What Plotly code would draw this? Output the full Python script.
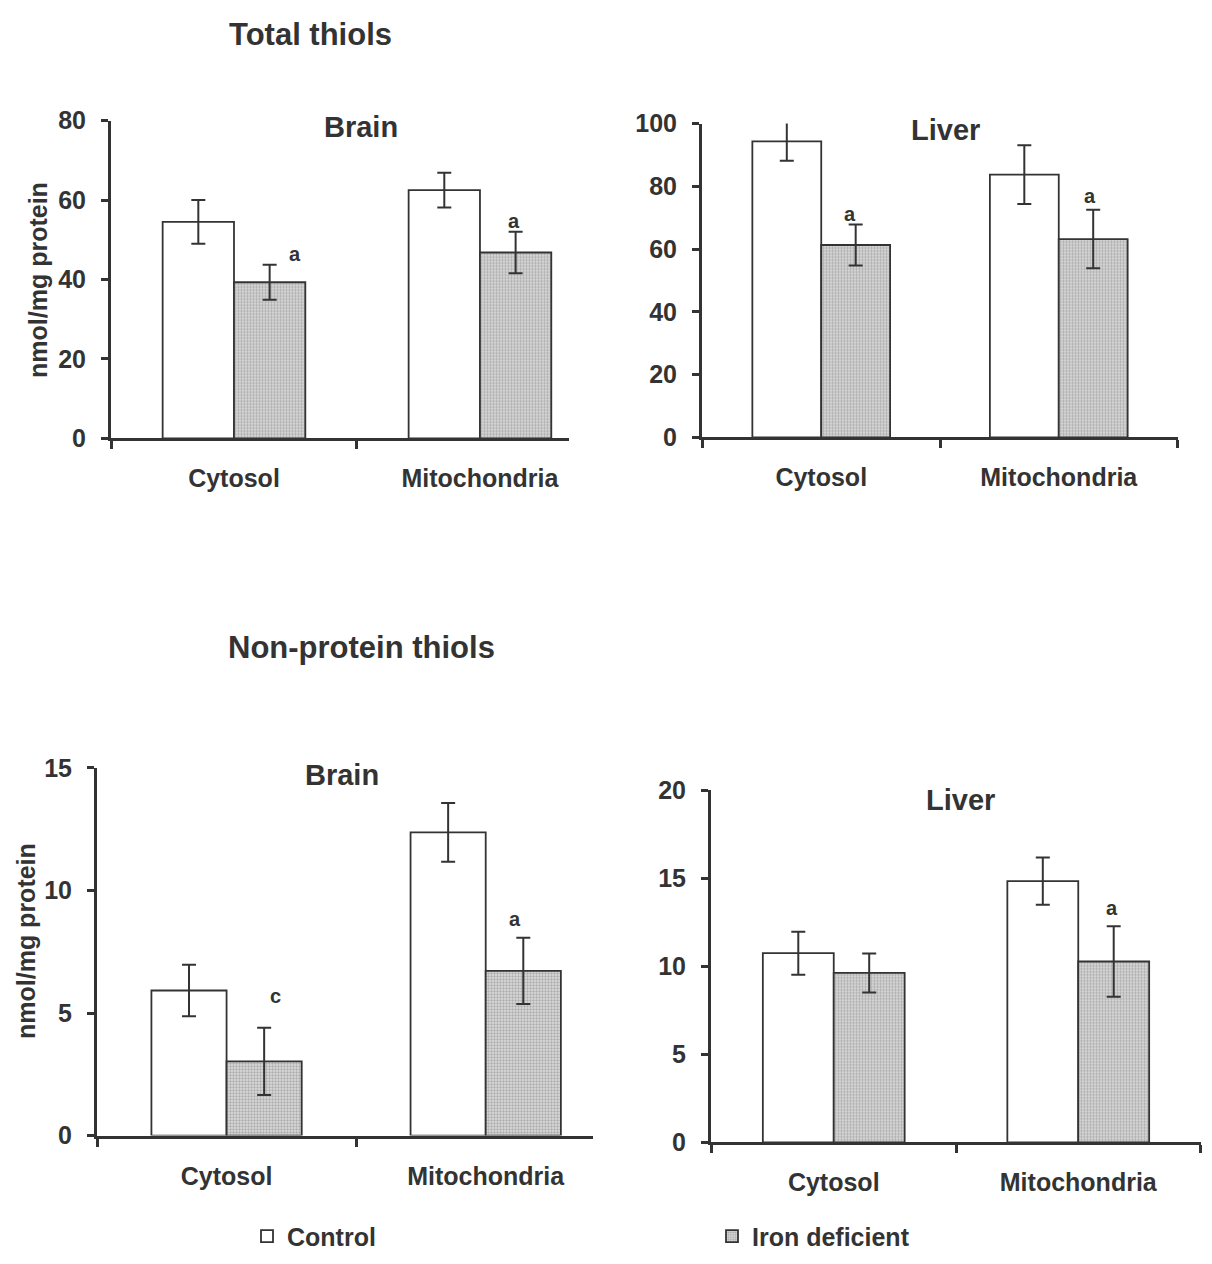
import plotly.graph_objects as go

W, H = 1212, 1264

categories = ["Cytosol", "Mitochondria"]
series_names = ["Control", "Iron deficient"]

# Total thiols (nmol/mg protein)
total_brain_control = [54.5, 62.5]
total_brain_control_err = [5.5, 4.4]
total_brain_iron = [39.3, 46.8]
total_brain_iron_err = [4.4, 5.2]
total_brain_sig = ["a", "a"]

total_liver_control = [94.3, 83.7]
total_liver_control_err = [6.2, 9.35]
total_liver_iron = [61.3, 63.2]
total_liver_iron_err = [6.5, 9.3]
total_liver_sig = ["a", "a"]

# Non-protein thiols (nmol/mg protein)
np_brain_control = [5.92, 12.37]
np_brain_control_err = [1.05, 1.2]
np_brain_iron = [3.03, 6.72]
np_brain_iron_err = [1.37, 1.35]
np_brain_sig = ["c", "a"]

np_liver_control = [10.75, 14.85]
np_liver_control_err = [1.22, 1.34]
np_liver_iron = [9.63, 10.28]
np_liver_iron_err = [1.11, 2.0]
np_liver_sig = ["", "a"]

y_ticks_total_brain = [0, 20, 40, 60, 80]
y_ticks_total_liver = [0, 20, 40, 60, 80, 100]
y_ticks_np_brain = [0, 5, 10, 15]
y_ticks_np_liver = [0, 5, 10, 15, 20]

FONT = "Liberation Sans, Arial, sans-serif"
INK = "#333333"
BARGAP = 0.42

panels = [
    dict(title="Brain", ctrl=total_brain_control, ctrl_err=total_brain_control_err,
         iron=total_brain_iron, iron_err=total_brain_iron_err, sig=total_brain_sig,
         yticks=y_ticks_total_brain, xpx=(111, 569), ypx=(109, 434),
         xrange=(-0.5, 1.362), bounds=[-0.5, 0.5], title_px=(361, 116),
         sig_shift=[(25, 11), (-2, 11)]),
    dict(title="Liver", ctrl=total_liver_control, ctrl_err=total_liver_control_err,
         iron=total_liver_iron, iron_err=total_liver_iron_err, sig=total_liver_sig,
         yticks=y_ticks_total_liver, xpx=(702, 1178), ypx=(112, 433),
         xrange=(-0.502, 1.502), bounds=[-0.5, 0.5, 1.5], title_px=(945, 119),
         sig_shift=[(-6, 11), (-3, 14)]),
    dict(title="Brain", ctrl=np_brain_control, ctrl_err=np_brain_control_err,
         iron=np_brain_iron, iron_err=np_brain_iron_err, sig=np_brain_sig,
         yticks=y_ticks_np_brain, xpx=(97, 593), ypx=(771, 1147),
         xrange=(-0.5, 1.414), bounds=[-0.5, 0.5], title_px=(342, 778),
         sig_shift=[(11, 32), (-8, 19)]),
    dict(title="Liver", ctrl=np_liver_control, ctrl_err=np_liver_control_err,
         iron=np_liver_iron, iron_err=np_liver_iron_err, sig=np_liver_sig,
         yticks=y_ticks_np_liver, xpx=(711, 1201), ypx=(794, 1154),
         xrange=(-0.502, 1.502), bounds=[-0.5, 0.5, 1.5], title_px=(960, 804),
         sig_shift=[(0, 11), (-2, 18)]),
]

fig = go.Figure()
annotations = []
xpos = list(range(len(categories)))
bar_w = (1 - BARGAP) / 2

for k, p in enumerate(panels):
    sfx = "" if k == 0 else str(k + 1)
    xa, ya = "x" + sfx, "y" + sfx
    fig.add_trace(go.Bar(
        x=xpos, y=p["ctrl"], name=series_names[0], legendgroup="c", showlegend=(k == 0),
        xaxis=xa, yaxis=ya,
        marker=dict(color="white", line=dict(color=INK, width=1.8)),
        error_y=dict(type="data", array=p["ctrl_err"], color=INK, thickness=2, width=7),
    ))
    fig.add_trace(go.Bar(
        x=xpos, y=p["iron"], name=series_names[1], legendgroup="i", showlegend=(k == 0),
        xaxis=xa, yaxis=ya,
        marker=dict(color="#dcdcdc", line=dict(color=INK, width=1.8),
                    pattern=dict(shape=".", size=3, solidity=0.5,
                                 fgcolor="#777777", bgcolor="#e0e0e0")),
        error_y=dict(type="data", array=p["iron_err"], color=INK, thickness=2, width=7),
    ))
    x0, x1 = p["xpx"]
    yt, yb = p["ypx"]
    fig.update_layout(**{
        ("xaxis" + sfx): dict(
            domain=[x0 / W, x1 / W], anchor=ya, type="linear",
            range=list(p["xrange"]), showgrid=False, zeroline=False,
            showline=True, linecolor=INK, linewidth=3,
            tickmode="array", tickvals=xpos, ticktext=categories, ticks="",
            ticklabelstandoff=16,
            tickfont=dict(family=FONT, size=25, color=INK, weight="bold"),
            minor=dict(tickmode="array", tickvals=p["bounds"], ticks="outside",
                       ticklen=8, tickwidth=3, tickcolor=INK, showgrid=False),
        ),
        ("yaxis" + sfx): dict(
            domain=[1 - yb / H, 1 - yt / H], anchor=xa,
            range=[p["yticks"][0], p["yticks"][-1]], showgrid=False, zeroline=False,
            showline=True, linecolor=INK, linewidth=3,
            tickmode="array", tickvals=p["yticks"], ticks="outside",
            ticklen=7, tickwidth=3, tickcolor=INK, ticklabelstandoff=10,
            tickfont=dict(family=FONT, size=25, color=INK, weight="bold"),
        ),
    })
    annotations.append(dict(
        text="<b>%s</b>" % p["title"], xref="paper", yref="paper",
        x=p["title_px"][0] / W, y=1 - p["title_px"][1] / H, showarrow=False,
        xanchor="center", yanchor="middle",
        font=dict(family=FONT, size=29, color=INK)))
    for i, s in enumerate(p["sig"]):
        if not s:
            continue
        dx, dy = p["sig_shift"][i]
        annotations.append(dict(
            text="<b>%s</b>" % s, xref=xa, yref=ya,
            x=xpos[i] + bar_w / 2, y=p["iron"][i] + p["iron_err"][i],
            xanchor="center", yanchor="middle", showarrow=False,
            xshift=dx, yshift=dy,
            font=dict(family=FONT, size=20, color=INK)))

# main titles and y-axis titles
for txt, px, py in [("Total thiols", 310, 21), ("Non-protein thiols", 361, 648)]:
    annotations.append(dict(text="<b>%s</b>" % txt, xref="paper", yref="paper",
                            x=px / W, y=1 - py / H, showarrow=False,
                            xanchor="center", yanchor="middle",
                            font=dict(family=FONT, size=31, color=INK)))
for px, py in [(38, 272), (26, 948)]:
    annotations.append(dict(text="<b>nmol/mg protein</b>", xref="paper", yref="paper",
                            x=px / W, y=1 - py / H, showarrow=False, textangle=-90,
                            xanchor="center", yanchor="middle",
                            font=dict(family=FONT, size=25, color=INK)))

fig.update_layout(
    width=W, height=H, margin=dict(l=0, r=0, t=0, b=0),
    paper_bgcolor="white", plot_bgcolor="white",
    barmode="group", bargap=BARGAP, bargroupgap=0,
    font=dict(family=FONT, color=INK),
    annotations=annotations,
    legend=dict(orientation="h", x=247 / W, y=1 - 1250 / H, xanchor="left", yanchor="middle",
                entrywidth=420, entrywidthmode="pixels",
                font=dict(family=FONT, size=25, color=INK, weight="bold"),
                bgcolor="rgba(0,0,0,0)", borderwidth=0),
)

fig.write_html("out.html")
